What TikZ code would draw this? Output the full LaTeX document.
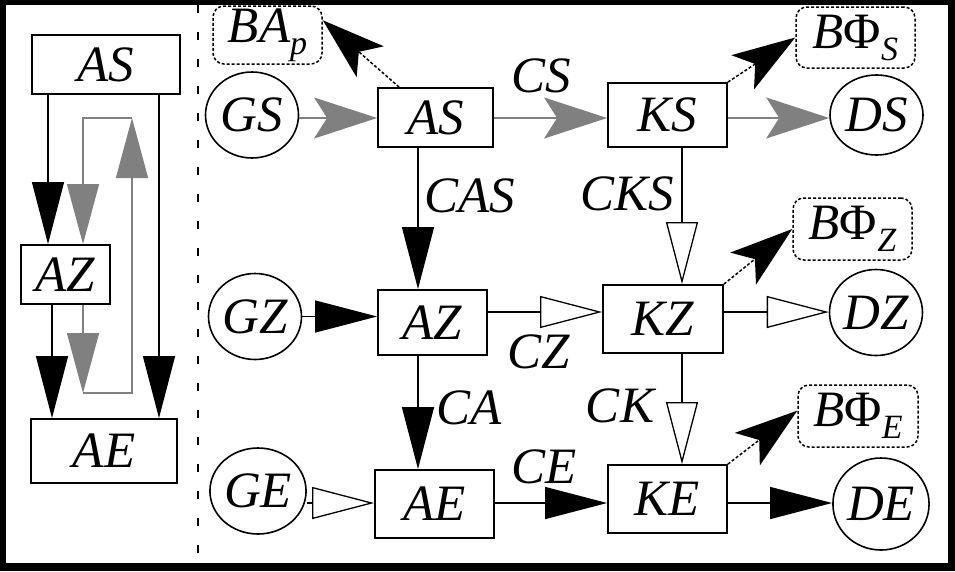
\documentclass[tikz,border=0pt]{standalone}
\usepackage{fontspec}
\setmainfont{Liberation Serif}
\usetikzlibrary{arrows.meta,shapes.geometric,positioning}
\newcommand{\bigit}{\fontsize{51}{56}\selectfont\itshape}
\newcommand{\lidx}[1]{\raisebox{-12pt}{\fontsize{34}{36}\selectfont #1}}
\tikzset{
  blk/.style  ={draw, line width=1.8pt, minimum width=119pt, minimum height=66pt,
                inner sep=0pt, font=\bigit},
  src/.style  ={draw, ellipse, line width=1.6pt, minimum width=93pt,
                minimum height=86pt, inner sep=0pt, font=\bigit},
  bnd/.style  ={draw, densely dashed, rounded corners=11pt, line width=1.5pt,
                minimum width=119pt, minimum height=61pt, inner sep=0pt, font=\bigit},
  lbl/.style  ={font=\bigit, inner sep=0pt},
  farr/.style ={-{Triangle[length=62pt,width=32pt]}, line width=1.3pt},
  oarr/.style ={-{Triangle[open,fill=white,length=62pt,width=32pt]}, line width=1.3pt},
  garr/.style ={-{Stealth[length=63pt,width=41pt,inset=13pt]}, line width=1.3pt, black!50},
  larr/.style ={-{Triangle[length=60pt,width=32pt]}, line width=1.3pt, black!50},
  darr/.style ={-{Stealth[length=63pt,width=41pt,inset=15pt]}, densely dashed, line width=1.5pt},
  sepl/.style ={dash pattern=on 8pt off 19pt, line width=1.3pt},
}

\begin{document}
\begin{tikzpicture}[x=1pt, y=-1pt]

% ---- frame -----------------------------------------------------------
\fill[black] (0,0) rectangle (955,571);
\fill[white] (6,5) rectangle (948,563);
\draw[sepl] (198,5) -- (198,563);

% ---- left panel ------------------------------------------------------
\node[blk, minimum width=148pt, minimum height=59pt] (las) at (106,64.5) {AS};
\node[blk, minimum width=89pt, minimum height=59pt] (laz) at (65.5,274.5) {AZ};
\node[blk, minimum width=146pt, minimum height=64pt] (lae) at (104,451) {AE};

\draw[farr] ([xshift=-58pt]las.south) -- ([xshift=-17.5pt]laz.north);
\draw[farr] ([xshift=-13.5pt]laz.south) -- ([xshift=-52pt]lae.north);
\draw[farr] ([xshift=53pt]las.south) -- ([xshift=55pt]lae.north);

\coordinate (lb) at (83,393);
\coordinate (lt) at (132,118);
\draw[larr] ([xshift=17.5pt]laz.south) -- (lb);
\draw[larr] (lb) -| (lt);
\draw[larr] (lt) -| ([xshift=17.5pt]laz.north);

% ---- right panel: nodes ----------------------------------------------
\node[src] (gs) at (252,115) {GS};
\node[blk, minimum width=115pt, minimum height=59pt] (as) at (435.5,117.5) {AS};
\node[blk, minimum height=64pt] (ks) at (667.5,115) {KS};
\node[src, minimum height=80pt] (ds) at (876.5,115) {DS};

\node[src] (gz) at (255,316.5) {GZ};
\node[blk, minimum width=109pt, minimum height=65pt] (az) at (432.5,322.5) {AZ};
\node[blk, minimum width=120pt, minimum height=68pt] (kz) at (663,319) {KZ};
\node[src] (dz) at (876,312.5) {DZ};

\node[src] (ge) at (258,491) {GE};
\node[blk, minimum height=68pt] (ae) at (434.5,504) {AE};
\node[blk, minimum height=68pt] (ke) at (667.5,499) {KE};
\node[src, minimum width=92pt, minimum height=92pt] (de) at (881,504) {DE};

\node[bnd, minimum width=109pt, minimum height=58pt] (bap) at (267.5,35) {BA\lidx{p}};
\node[bnd] (bfs) at (855.5,37.5) {B{\upshape Φ}\lidx{S}};
\node[bnd, minimum height=62pt] (bfz) at (852.5,229) {B{\upshape Φ}\lidx{Z}};
\node[bnd, minimum width=120pt, minimum height=62pt] (bfe) at (858,416) {B{\upshape Φ}\lidx{E}};

% ---- right panel: links ----------------------------------------------
\coordinate (colA) at (418,0);
\coordinate (colK) at (682,0);
\coordinate (rowS) at (0,118);
\coordinate (rowZ) at (0,312);
\coordinate (rowE) at (0,503);

\draw[garr] (gs.east |- rowS) -- (as.west |- rowS);
\draw[garr] (as.east |- rowS) -- (ks.west |- rowS);
\draw[garr] (ks.east |- rowS) -- (ds.west |- rowS);

\draw[farr] (gz.east) -- (gz.east -| az.west);
\draw[oarr] (az.east |- rowZ) -- (kz.west |- rowZ);
\draw[oarr] (kz.east |- rowZ) -- (dz.west |- rowZ);

\draw[oarr] (ge.east |- rowE) -- (ae.west |- rowE);
\draw[farr] (ae.east |- rowE) -- (ke.west |- rowE);
\draw[farr] (ke.east |- rowE) -- (de.west |- rowE);

\draw[farr] (as.south -| colA) -- (az.north -| colA);
\draw[farr] (az.south -| colA) -- (ae.north -| colA);
\draw[oarr] (ks.south -| colK) -- (kz.north -| colK);
\draw[oarr] (kz.south -| colK) -- (ke.north -| colK);

\draw[darr] ([xshift=22pt]as.north west) -- (bap.15);
\draw[darr] (ks.north east) -- (bfs.west);
\draw[darr] (kz.north east) -- (bfz.west);
\draw[darr] (ke.north east) -- (bfe.175);

% ---- labels ----------------------------------------------------------
\node[lbl] (cs)  at (541,76)  {CS};
\node[lbl] (cas) at (470,196) {CAS};
\node[lbl] (cks) at (627,194) {CKS};
\node[lbl] (cz)  at (539,352) {CZ};
\node[lbl] (ca)  at (469,408) {CA};
\node[lbl] (ck)  at (620,406) {CK};
\node[lbl] (ce)  at (544,467) {CE};

\end{tikzpicture}
\end{document}
